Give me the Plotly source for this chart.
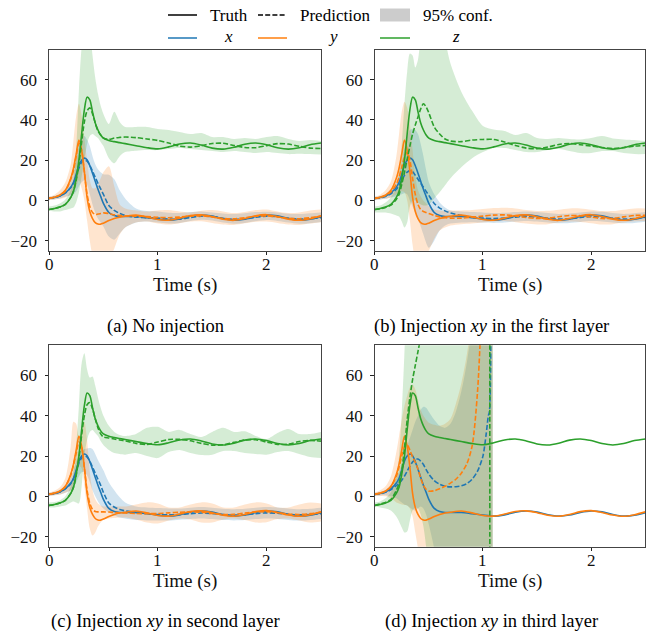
import plotly.graph_objects as go

# ---------------- data ----------------
T = [0, 0.05, 0.1, 0.15, 0.2, 0.225, 0.25, 0.275, 0.3, 0.325,
     0.35, 0.375, 0.4, 0.425, 0.45, 0.475, 0.5, 0.55, 0.6, 0.65,
     0.7, 0.8, 0.9, 1.0, 1.1, 1.2, 1.3, 1.4, 1.5, 1.6,
     1.7, 1.8, 1.9, 2.0, 2.1, 2.2, 2.3, 2.4, 2.5]

X_TRUE = [1.0, 1.4, 2.2, 3.8, 6.6, 9.0, 13.0, 17.5, 20.0, 21.0,
          20.2, 17.2, 13.5, 9.5, 5.5, 2.0, -1.5, -6.0, -7.5, -8.0,
          -8.0, -8.0, -8.6, -9.3, -9.8, -9.2, -7.9, -7.3, -7.8, -9.1,
          -9.8, -9.3, -8.0, -7.3, -7.7, -9.0, -9.8, -9.4, -8.1]
Y_TRUE = [1.0, 1.6, 2.6, 5.0, 11.0, 16.0, 23.0, 30.0, 25.0, 14.5,
          1.5, -5.5, -9.0, -11.0, -11.7, -11.8, -11.3, -10.0, -9.0, -8.3,
          -7.9, -7.3, -8.2, -9.5, -9.8, -8.8, -7.5, -7.2, -8.1, -9.4,
          -9.9, -9.0, -7.6, -7.1, -8.0, -9.3, -9.9, -9.1, -7.7]
Z_TRUE = [-4.5, -4.0, -3.3, -2.0, 1.5, 4.5, 11.0, 20.0, 33.0, 45.0,
          51.3, 50.0, 44.0, 38.5, 35.0, 32.5, 31.0, 29.8, 29.2, 28.7,
          28.2, 27.2, 26.2, 25.6, 26.6, 28.0, 28.5, 27.5, 26.0, 25.5,
          26.4, 27.9, 28.5, 27.7, 26.2, 25.5, 26.2, 27.7, 28.5]

# (a) no injection
XA_PRED = [1.0, 1.4, 2.2, 3.7, 6.3, 8.5, 12.0, 16.0, 19.0, 20.0,
           19.5, 17.5, 14.5, 11.5, 8.5, 5.7, 3.0, -2.5, -5.0, -6.5,
           -7.5, -8.3, -8.6, -8.8, -9.3, -9.3, -8.5, -7.8, -8.0, -8.9,
           -9.4, -9.2, -8.4, -7.9, -8.1, -8.9, -9.3, -9.1, -8.6]
XA_LO = [0.2, 0.5, 1.0, 1.8, 2.5, 3.0, 4.5, 7.0, 9.0, 10.0,
         8.0, 3.0, -2.0, -6.0, -9.0, -11.0, -13.0, -18.0, -19.5, -16.5,
         -13.5, -11.0, -10.5, -11.0, -11.5, -11.2, -10.2, -9.6, -10.0, -11.0,
         -11.6, -11.2, -10.4, -9.8, -10.2, -11.0, -11.6, -11.3, -10.7]
XA_HI = [1.8, 2.3, 3.3, 5.5, 10.0, 14.0, 20.0, 27.0, 31.0, 32.0,
         30.0, 27.0, 22.0, 18.0, 15.5, 14.0, 13.0, 12.8, 10.5, 5.0,
         1.0, -4.0, -5.3, -5.5, -6.2, -6.3, -5.8, -5.5, -6.0, -6.5,
         -6.8, -6.4, -5.8, -5.6, -6.0, -6.6, -6.8, -6.4, -6.0]
YA_PRED = [1.0, 1.6, 2.6, 4.6, 10.5, 15.0, 22.0, 28.5, 25.0, 14.0,
           3.0, -3.0, -6.0, -7.0, -6.8, -6.5, -6.2, -6.5, -7.2, -7.5,
           -7.6, -7.8, -8.0, -8.4, -8.6, -8.3, -7.8, -7.7, -8.2, -8.9,
           -9.1, -8.6, -7.9, -7.7, -8.2, -8.9, -9.1, -8.6, -7.9]
YA_LO = [0.2, 0.5, 0.8, 1.5, 3.0, 4.5, 7.0, 10.0, 6.0, 0.0,
         -10.0, -20.0, -28.0, -34.0, -37.0, -37.0, -35.0, -30.0, -24.0, -17.0,
         -13.5, -11.0, -10.5, -11.5, -12.0, -11.3, -10.5, -10.4, -11.2, -12.0,
         -12.2, -11.4, -10.6, -10.5, -11.2, -12.0, -12.2, -11.5, -10.8]
YA_HI = [1.8, 2.8, 5.0, 9.0, 18.0, 30.0, 42.0, 48.0, 42.0, 31.0,
         20.0, 10.0, 6.0, 6.0, 8.0, 11.0, 14.0, 17.0, 7.0, -2.0,
         -4.0, -5.0, -5.5, -5.0, -4.8, -5.5, -6.0, -5.2, -4.8, -5.5,
         -6.3, -5.8, -4.8, -4.5, -5.5, -6.3, -6.0, -5.0, -4.5]
ZA_PRED = [-4.5, -4.0, -3.3, -2.0, 1.5, 4.5, 10.0, 18.0, 29.0, 39.0,
           44.5, 46.0, 43.0, 38.5, 34.5, 32.5, 31.0, 30.3, 31.0, 31.3,
           31.5, 31.2, 30.5, 29.8, 28.5, 27.0, 26.5, 27.2, 28.3, 28.4,
           27.3, 26.3, 26.2, 27.2, 28.2, 28.0, 26.9, 26.0, 25.8]
ZA_LO = [-5.0, -5.5, -5.5, -4.8, -4.0, -3.5, -1.0, 4.0, 12.0, 20.0,
         28.0, 32.0, 33.0, 32.0, 31.0, 29.0, 27.0, 21.0, 18.5, 22.0,
         24.0, 24.7, 25.0, 25.0, 25.5, 26.0, 25.5, 25.0, 24.5, 24.0,
         24.5, 24.0, 23.5, 24.0, 23.5, 23.0, 23.2, 23.0, 22.8]
ZA_HI = [-3.0, -2.5, -1.5, 0.5, 5.0, 10.0, 25.0, 55.0, 76.0, 85.0,
         88.0, 84.0, 72.0, 61.0, 53.0, 47.0, 43.0, 38.0, 44.0, 39.0,
         36.5, 36.5, 36.5, 35.5, 35.0, 34.0, 33.0, 33.5, 31.5, 31.5,
         30.5, 31.0, 30.5, 31.5, 32.0, 30.5, 29.5, 30.0, 29.5]

# (b) injection xy in the first layer
XB_PRED = [1.0, 1.3, 2.0, 3.3, 5.5, 7.5, 10.0, 12.5, 14.0, 14.8,
           14.3, 12.5, 10.5, 8.5, 6.5, 4.5, 2.5, -1.5, -3.8, -5.2,
           -6.2, -7.5, -8.3, -8.8, -9.0, -8.8, -8.3, -8.0, -8.3, -8.9,
           -9.3, -9.1, -8.5, -8.0, -8.2, -8.9, -9.3, -9.0, -8.4]
XB_LO = [0.2, 0.5, 0.9, 1.5, 2.0, 2.5, 3.0, 3.5, 3.0, 0.0,
         -3.0, -6.0, -9.0, -13.0, -17.0, -21.0, -23.5, -20.0, -15.0, -12.5,
         -11.5, -11.0, -10.8, -11.0, -11.2, -11.0, -10.5, -10.2, -10.5, -11.0,
         -11.4, -11.2, -10.7, -10.3, -10.5, -11.0, -11.4, -11.2, -10.6]
XB_HI = [1.8, 2.2, 3.2, 5.5, 9.5, 13.0, 19.0, 26.0, 32.0, 35.0,
         35.5, 35.0, 33.0, 28.0, 22.0, 15.0, 9.0, 3.0, -1.0, -3.5,
         -5.0, -5.5, -5.8, -6.0, -6.3, -6.2, -5.8, -5.5, -5.8, -6.3,
         -6.7, -6.5, -6.0, -5.5, -5.7, -6.3, -6.7, -6.4, -5.8]
YB_PRED = [1.0, 1.5, 2.4, 4.2, 8.0, 11.5, 16.5, 21.5, 24.0, 20.0,
           11.0, 3.0, -2.0, -4.5, -5.5, -6.0, -6.5, -7.5, -8.2, -8.6,
           -8.8, -8.8, -8.3, -7.8, -7.3, -7.2, -7.7, -8.5, -9.0, -8.8,
           -8.1, -7.5, -7.6, -8.3, -9.0, -8.9, -8.2, -7.5, -7.4]
YB_LO = [0.2, 0.5, 0.8, 1.5, 3.0, 4.0, 4.5, 4.0, 0.0, -10.0,
         -22.0, -30.0, -32.0, -31.0, -29.0, -27.0, -25.0, -19.0, -15.0, -13.5,
         -12.5, -11.8, -11.5, -11.0, -10.5, -10.3, -10.8, -11.5, -12.0, -11.8,
         -11.0, -10.5, -10.7, -11.3, -12.0, -11.8, -11.0, -10.4, -10.3]
YB_HI = [1.8, 2.8, 5.0, 9.5, 22.0, 33.0, 44.0, 49.0, 46.0, 38.0,
         25.0, 12.0, 5.0, 2.0, 0.0, -1.5, -3.0, -4.5, -5.0, -5.2,
         -5.0, -5.0, -4.8, -4.3, -3.8, -3.6, -4.0, -4.8, -5.3, -5.2,
         -4.6, -4.0, -4.0, -4.6, -5.3, -5.3, -4.6, -4.0, -4.0]
ZB_PRED = [-4.5, -4.2, -3.5, -2.3, 0.5, 3.0, 8.0, 14.0, 20.5, 27.0,
           33.0, 37.5, 41.5, 45.5, 48.0, 46.5, 43.5, 36.5, 33.0, 30.5,
           29.5, 29.2, 30.0, 30.3, 30.3, 29.0, 27.3, 26.0, 25.7, 26.5,
           27.8, 28.3, 27.7, 27.0, 26.3, 25.8, 26.3, 27.0, 27.3]
ZB_LO = [-6.0, -6.0, -6.0, -6.5, -7.5, -8.0, -10.5, -13.5, -11.0, -3.0,
         0.0, 0.0, -1.0, -2.0, -2.5, -2.5, -2.0, 1.0, 4.0, 7.5,
         11.0, 16.5, 21.0, 24.0, 26.0, 26.0, 25.0, 24.0, 24.0, 25.0,
         25.5, 24.5, 23.5, 23.5, 24.5, 24.5, 23.5, 23.0, 23.0]
ZB_HI = [-3.0, -2.5, -1.0, 1.5, 7.0, 14.0, 28.0, 48.0, 64.0, 73.0,
         72.0, 66.0, 70.0, 82.0, 90.0, 95.0, 97.0, 97.0, 92.0, 80.0,
         68.0, 54.0, 44.5, 37.0, 35.2, 34.5, 32.5, 33.5, 31.0, 30.5,
         31.0, 30.5, 30.3, 31.0, 32.0, 30.8, 30.3, 30.0, 29.5]

# (c) injection xy in second layer
XC_PRED = [1.0, 1.4, 2.2, 3.7, 6.3, 8.7, 12.5, 16.5, 19.0, 20.0,
           19.5, 17.5, 14.5, 11.5, 8.5, 5.5, 2.0, -3.3, -5.3, -6.5,
           -7.2, -8.0, -8.5, -9.0, -9.2, -9.0, -8.6, -8.3, -8.5, -9.0,
           -9.3, -9.1, -8.6, -8.2, -8.4, -8.9, -9.2, -9.0, -8.6]
XC_LO = [0.2, 0.5, 1.0, 1.8, 3.0, 4.5, 7.0, 10.0, 12.0, 12.0,
         10.5, 7.0, 3.0, 0.0, -2.5, -4.5, -6.0, -8.0, -9.5, -10.5,
         -11.0, -11.8, -12.0, -12.0, -12.0, -11.6, -11.2, -11.0, -11.3, -11.8,
         -12.0, -11.8, -11.3, -11.0, -11.2, -11.7, -12.0, -11.7, -11.2]
XC_HI = [1.8, 2.3, 3.3, 5.5, 9.5, 13.0, 17.0, 21.0, 23.0, 23.5,
         23.8, 24.0, 23.5, 21.0, 18.0, 15.5, 13.0, 7.0, 3.0, -0.5,
         -3.0, -5.0, -5.5, -5.8, -6.0, -6.0, -5.6, -5.3, -5.6, -6.1,
         -6.4, -6.2, -5.7, -5.3, -5.5, -6.0, -6.4, -6.2, -5.7]
YC_PRED = [1.0, 1.6, 2.6, 4.8, 10.5, 15.5, 21.5, 27.0, 24.5, 14.0,
           3.0, -3.5, -6.5, -7.5, -7.7, -7.7, -7.7, -7.8, -8.0, -8.2,
           -8.3, -8.5, -8.6, -8.5, -8.2, -7.9, -7.7, -7.9, -8.5, -9.0,
           -8.9, -8.3, -7.7, -7.6, -8.1, -8.8, -9.0, -8.6, -7.9]
YC_LO = [0.2, 0.5, 0.8, 1.8, 3.0, 5.0, 9.0, 15.0, 14.0, 5.0,
         -6.0, -16.0, -19.5, -18.0, -15.0, -13.0, -11.5, -11.0, -10.8, -10.5,
         -10.5, -11.5, -13.0, -13.5, -12.0, -11.0, -11.5, -13.0, -13.0, -11.5,
         -11.0, -11.8, -13.0, -12.8, -11.3, -11.0, -12.0, -13.0, -12.5]
YC_HI = [1.8, 2.8, 4.5, 9.0, 25.0, 37.0, 36.0, 29.0, 32.0, 37.0,
         28.0, 12.0, 3.0, -1.5, -3.5, -4.5, -5.0, -5.0, -5.0, -5.0,
         -5.0, -4.0, -3.0, -3.5, -5.5, -5.5, -4.0, -3.0, -3.5, -5.5,
         -5.5, -4.0, -3.0, -3.5, -5.5, -5.5, -4.0, -3.0, -3.5]
ZC_PRED = [-4.5, -4.0, -3.3, -2.0, 1.5, 4.5, 10.5, 19.0, 30.5, 40.0,
           45.5, 46.5, 43.5, 38.5, 34.0, 31.0, 29.5, 29.0, 28.5, 28.0,
           27.5, 26.3, 25.8, 27.0, 28.2, 28.3, 27.6, 26.3, 25.4, 25.6,
           26.8, 28.0, 28.1, 27.0, 25.8, 25.9, 27.2, 27.8, 27.4]
ZC_LO = [-5.5, -5.5, -5.0, -4.5, -3.0, -2.5, -3.0, -3.5, 5.0, 20.0,
         28.0, 32.0, 33.0, 31.5, 30.0, 27.5, 25.5, 23.0, 21.5, 21.0,
         20.7, 21.5, 20.0, 19.0, 22.0, 23.0, 21.5, 20.5, 20.7, 22.5,
         22.5, 21.5, 21.0, 20.7, 22.0, 22.5, 21.0, 19.5, 19.0]
ZC_HI = [-3.0, -2.8, -2.0, 0.0, 5.0, 12.0, 25.0, 45.0, 66.0, 71.0,
         63.0, 59.0, 59.5, 55.0, 49.0, 44.0, 40.0, 35.0, 32.0, 30.5,
         30.0, 31.0, 34.0, 34.5, 32.0, 33.0, 31.0, 29.5, 32.0, 34.0,
         32.0, 32.3, 30.0, 28.5, 31.5, 33.5, 31.0, 31.0, 32.0]

# (d) injection xy in third layer (prediction diverges)
TD = [0, 0.05, 0.1, 0.15, 0.2, 0.225, 0.25, 0.275, 0.3, 0.325,
      0.35, 0.375, 0.4, 0.425, 0.45, 0.475, 0.5, 0.55, 0.6, 0.65,
      0.7, 0.75, 0.8, 0.85, 0.9, 0.95, 1.0, 1.03, 1.05, 1.06,
      1.062, 1.063, 1.09]
XD_PRED = [1.0, 1.3, 2.0, 3.3, 5.3, 6.5, 8.0, 10.0, 12.5, 15.0,
           17.0, 18.3, 18.5, 17.5, 15.8, 13.3, 11.0, 7.8, 6.0, 5.0,
           4.7, 4.8, 5.2, 6.3, 8.5, 12.5, 20.0, 31.0, 40.0, 42.0,
           300.0, None, None]
XD_LO = [0.2, 0.4, 0.5, 0.0, -1.0, -2.0, -3.0, -4.0, -4.5, -5.5,
         -6.5, -7.0, -6.0, -5.0, -6.0, -9.0, -14.0, -26.0, -45.0, -70.0,
         -100.0, -150.0, -200.0, -250.0, -300.0, -300.0, -300.0, -300.0, -300.0, -300.0,
         -300.0, -300.0, -300.0]
XD_HI = [1.8, 2.3, 3.3, 5.5, 9.0, 12.0, 16.0, 20.0, 25.0, 29.0,
         33.0, 37.0, 40.0, 43.0, 44.5, 44.0, 42.0, 38.0, 35.0, 34.0,
         36.0, 42.0, 52.0, 66.0, 85.0, 110.0, 150.0, 200.0, 250.0, 300.0,
         300.0, 300.0, 300.0]
YD_PRED = [1.0, 1.6, 2.6, 4.8, 10.0, 14.5, 20.0, 24.5, 25.5, 23.0,
           19.5, 17.0, 13.5, 9.0, 5.5, 3.5, 2.6, 2.8, 3.8, 5.0,
           6.6, 8.5, 11.5, 16.0, 25.0, 52.0, 110.0, 150.0, 180.0, 200.0,
           None, None, None]
YD_LO = [0.2, 0.2, 0.0, -1.0, -3.0, -3.5, -4.0, -4.3, -4.5, -6.0,
         -10.0, -18.0, -26.0, -35.0, -50.0, -70.0, -90.0, -130.0, -170.0, -210.0,
         -250.0, -300.0, -300.0, -300.0, -300.0, -300.0, -300.0, -300.0, -300.0, -300.0,
         -300.0, -300.0, -300.0]
YD_HI = [1.8, 3.0, 5.0, 10.0, 22.0, 30.0, 38.0, 45.0, 50.0, 54.0,
         55.5, 53.0, 48.0, 43.0, 40.0, 38.0, 36.5, 35.5, 35.0, 36.0,
         38.5, 46.0, 56.0, 70.0, 90.0, 120.0, 160.0, 200.0, 250.0, 300.0,
         300.0, 300.0, 300.0]
ZD_PRED = [-4.5, -3.8, -3.0, -1.5, 3.0, 6.5, 13.0, 24.0, 38.0, 49.0,
           58.0, 65.0, 72.0, 79.0, 87.0, 94.0, 100.0, 115.0, 130.0, 145.0,
           160.0, 175.0, 190.0, 205.0, 220.0, 235.0, 250.0, 260.0, 270.0, 280.0,
           300.0, -300.0, None]
ZD_LO = [-5.0, -5.5, -6.0, -7.0, -10.0, -12.5, -15.5, -18.0, -17.5, -12.0,
         -7.0, -5.5, -6.0, -9.0, -15.0, -25.0, -40.0, -80.0, -150.0, -250.0,
         -300.0, -300.0, -300.0, -300.0, -300.0, -300.0, -300.0, -300.0, -300.0, -300.0,
         -300.0, -300.0, -300.0]
ZD_HI = [-3.0, -2.5, -1.0, 2.0, 10.0, 20.0, 42.0, 72.0, 110.0, 150.0,
         190.0, 230.0, 260.0, 280.0, 300.0, 300.0, 300.0, 300.0, 300.0, 300.0,
         300.0, 300.0, 300.0, 300.0, 300.0, 300.0, 300.0, 300.0, 300.0, 300.0,
         300.0, 300.0, 300.0]

X_TICKS = [0, 1, 2]
X_TICKTEXT = ["0", "1", "2"]
Y_TICKS = [-20, 0, 20, 40, 60]
Y_TICKTEXT = ["\u221220", "0", "20", "40", "60"]
CAPTIONS = ["(a) No injection",
            "(b) Injection <i>xy</i> in the first layer",
            "(c) Injection <i>xy</i> in second layer",
            "(d) Injection <i>xy</i> in third layer"]
XLABEL = "Time (s)"

# ---------------- style ----------------
W, H = 664, 639
FONT = "'Liberation Serif', 'Times New Roman', Times, 'DejaVu Serif', serif"
COLORS = {"x": "#1f77b4", "y": "#ff7f0e", "z": "#2ca02c"}
FILLS = {"x": "rgba(31,119,180,0.2)", "y": "rgba(255,127,14,0.2)", "z": "rgba(44,160,44,0.2)"}
LW = 1.6
DASH = "5px,2.2px"


def px_x(p):
    return p / W


def px_y(p):
    return 1 - p / H


PANELS = [
    dict(t=T, tp=T, pred={"x": XA_PRED, "y": YA_PRED, "z": ZA_PRED},
         lo={"x": XA_LO, "y": YA_LO, "z": ZA_LO}, hi={"x": XA_HI, "y": YA_HI, "z": ZA_HI},
         box=(49, 321, 49.5, 250.7)),
    dict(t=T, tp=T, pred={"x": XB_PRED, "y": YB_PRED, "z": ZB_PRED},
         lo={"x": XB_LO, "y": YB_LO, "z": ZB_LO}, hi={"x": XB_HI, "y": YB_HI, "z": ZB_HI},
         box=(374.7, 645.3, 49.5, 250.7)),
    dict(t=T, tp=T, pred={"x": XC_PRED, "y": YC_PRED, "z": ZC_PRED},
         lo={"x": XC_LO, "y": YC_LO, "z": ZC_LO}, hi={"x": XC_HI, "y": YC_HI, "z": ZC_HI},
         box=(49, 321, 345.3, 546.7)),
    dict(t=TD, tp=TD, pred={"x": XD_PRED, "y": YD_PRED, "z": ZD_PRED},
         lo={"x": XD_LO, "y": YD_LO, "z": ZD_LO}, hi={"x": XD_HI, "y": YD_HI, "z": ZD_HI},
         box=(374.7, 645.3, 345.3, 546.7)),
]
TRUTH = {"x": X_TRUE, "y": Y_TRUE, "z": Z_TRUE}

fig = go.Figure()
layout = dict(width=W, height=H, margin=dict(l=0, r=0, t=0, b=0),
              paper_bgcolor="white", plot_bgcolor="white", showlegend=False,
              font=dict(family=FONT, color="black"))
annotations = []

for i, p in enumerate(PANELS):
    n = "" if i == 0 else str(i + 1)
    xa, ya = "x" + n, "y" + n
    x0, x1, y0, y1 = p["box"]
    layout["xaxis" + n] = dict(
        domain=[px_x(x0), px_x(x1)], anchor=ya, range=[0, 2.5],
        tickvals=X_TICKS, ticks="outside", ticklen=3.5, tickwidth=1, tickcolor="#222",
        showticklabels=False,
        showline=True, mirror=True, linecolor="#444", linewidth=1,
        showgrid=False, zeroline=False)
    layout["yaxis" + n] = dict(
        domain=[px_y(y1), px_y(y0)], anchor=xa, range=[-25, 75],
        tickvals=Y_TICKS, ticktext=Y_TICKTEXT, ticks="outside", ticklen=3.5, tickwidth=1,
        tickcolor="#222", showline=True, mirror=True, linecolor="#444", linewidth=1,
        ticklabelstandoff=4,
        showgrid=False, zeroline=False, tickfont=dict(family=FONT, size=17, color="#111"))

    # confidence bands
    for v in ["x", "y", "z"]:
        fig.add_trace(go.Scatter(x=p["t"], y=p["lo"][v], mode="lines", xaxis=xa, yaxis=ya,
                                 line=dict(width=0, shape="spline", smoothing=0.8),
                                 hoverinfo="skip"))
        fig.add_trace(go.Scatter(x=p["t"], y=p["hi"][v], mode="lines", xaxis=xa, yaxis=ya,
                                 line=dict(width=0, shape="spline", smoothing=0.8),
                                 fill="tonexty", fillcolor=FILLS[v], hoverinfo="skip"))
    # truth + prediction
    for v in ["x", "y", "z"]:
        fig.add_trace(go.Scatter(x=T, y=TRUTH[v], mode="lines", xaxis=xa, yaxis=ya,
                                 line=dict(color=COLORS[v], width=LW, shape="spline", smoothing=0.8)))
        fig.add_trace(go.Scatter(x=p["tp"], y=p["pred"][v], mode="lines", xaxis=xa, yaxis=ya,
                                 line=dict(color=COLORS[v], width=LW, dash=DASH,
                                           shape="spline", smoothing=0.8)))

    # x tick labels placed under the ticks
    for tv, tt in zip(X_TICKS, X_TICKTEXT):
        annotations.append(dict(text=tt, xref=xa, yref="paper", x=tv, y=px_y(y1 + 14),
                                xanchor="center", yanchor="middle", showarrow=False,
                                font=dict(family=FONT, size=17, color="#111")))
    cx = (x0 + x1) / 2
    annotations.append(dict(text=XLABEL, xref="paper", yref="paper", x=px_x(cx),
                            y=px_y(y1 + 34), xanchor="center", yanchor="middle",
                            showarrow=False, font=dict(family=FONT, size=19, color="#111")))
    ccx = 165 if i % 2 == 0 else 491
    ccy = 326 if i < 2 else 621
    annotations.append(dict(text=CAPTIONS[i], xref="paper", yref="paper", x=px_x(ccx),
                            y=px_y(ccy), xanchor="center", yanchor="middle",
                            showarrow=False, font=dict(family=FONT, size=18.5, color="black")))

# ---------------- custom legend ----------------
shapes = []
LEG_R1, LEG_R2 = 15, 38
shapes.append(dict(type="line", xref="paper", yref="paper", x0=px_x(168), x1=px_x(197),
                   y0=px_y(LEG_R1), y1=px_y(LEG_R1), line=dict(color="black", width=1.5)))
shapes.append(dict(type="line", xref="paper", yref="paper", x0=px_x(258), x1=px_x(285),
                   y0=px_y(LEG_R1), y1=px_y(LEG_R1), line=dict(color="black", width=1.5, dash=DASH)))
shapes.append(dict(type="rect", xref="paper", yref="paper", x0=px_x(380), x1=px_x(410),
                   y0=px_y(21.5), y1=px_y(8.5), line=dict(width=0), fillcolor="#cccccc"))
for v, (a, b) in zip(["x", "y", "z"], [(168, 197), (258, 287), (380, 410)]):
    shapes.append(dict(type="line", xref="paper", yref="paper", x0=px_x(a), x1=px_x(b),
                       y0=px_y(LEG_R2), y1=px_y(LEG_R2), line=dict(color=COLORS[v], width=1.5)))

for txt, xl in [("Truth", 208), ("Prediction", 298), ("95% conf.", 421)]:
    annotations.append(dict(text=txt, xref="paper", yref="paper", x=px_x(xl), y=px_y(LEG_R1),
                            xanchor="left", yanchor="middle", showarrow=False,
                            font=dict(family=FONT, size=17, color="black")))
for txt, xc in [("<i>x</i>", 228), ("<i>y</i>", 333), ("<i>z</i>", 456)]:
    annotations.append(dict(text=txt, xref="paper", yref="paper", x=px_x(xc), y=px_y(LEG_R2 - 1),
                            xanchor="center", yanchor="middle", showarrow=False,
                            font=dict(family=FONT, size=17, color="black")))

layout["annotations"] = annotations
layout["shapes"] = shapes
fig.update_layout(**layout)
fig.write_html("out.html")
